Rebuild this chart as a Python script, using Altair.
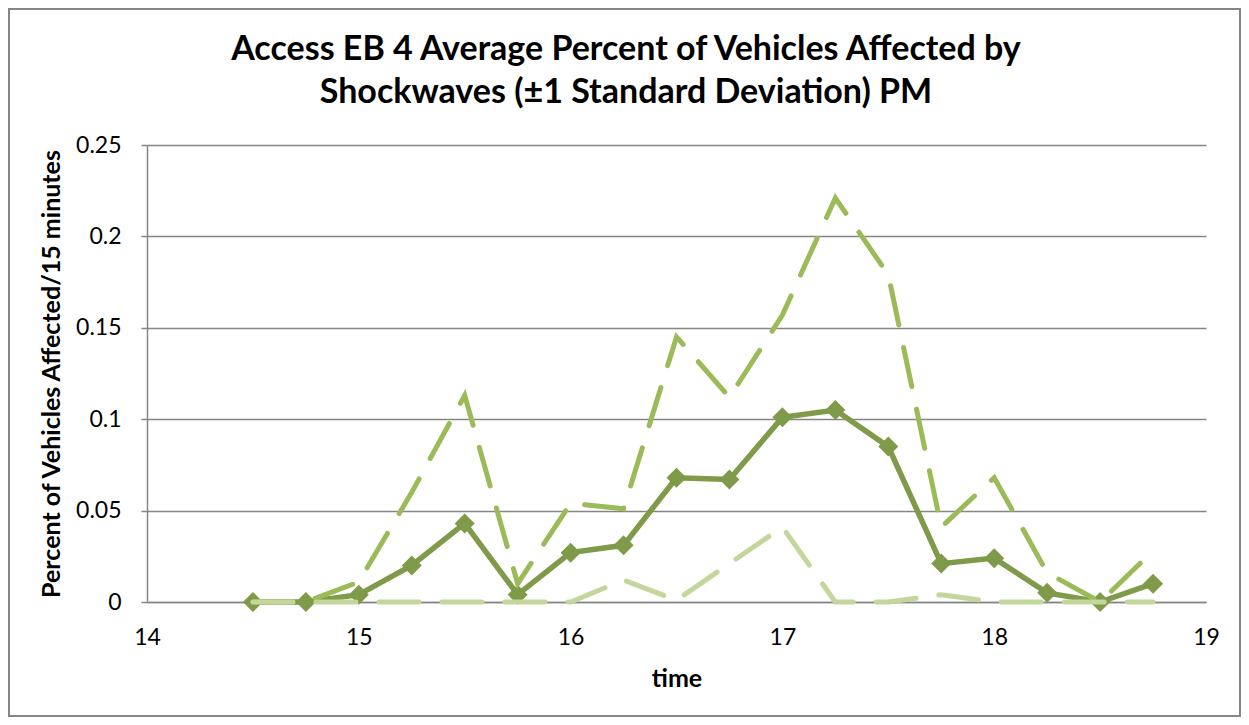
import altair as alt
import pandas as pd

times = [14.5, 14.75, 15.0, 15.25, 15.5, 15.75, 16.0, 16.25, 16.5, 16.75,
         17.0, 17.25, 17.5, 17.75, 18.0, 18.25, 18.5, 18.75]
mean_vals = [0.0, 0.0, 0.004, 0.020, 0.043, 0.004, 0.027, 0.031, 0.068, 0.067,
             0.101, 0.105, 0.085, 0.021, 0.024, 0.005, 0.0, 0.010]
upper_vals = [0.0, 0.0, 0.011, 0.060, 0.113, 0.010, 0.054, 0.051, 0.145, 0.112,
              0.157, 0.221, 0.179, 0.041, 0.068, 0.016, 0.0, 0.028]
lower_vals = [0.0, 0.0, 0.0, 0.0, 0.0, 0.0, 0.0, 0.012, 0.001, 0.021,
              0.041, 0.0, 0.0, 0.004, 0.0, 0.0, 0.0, 0.0]
x_ticks = [14, 15, 16, 17, 18, 19]
y_ticks = [0, 0.05, 0.1, 0.15, 0.2, 0.25]
title_lines = ["Access EB 4 Average Percent of Vehicles Affected by",
               "Shockwaves (±1 Standard Deviation) PM"]

df = pd.DataFrame({"time": times, "mean": mean_vals, "upper": upper_vals, "lower": lower_vals})

FONT = "Lato"
GRAY = "#868686"
W, H = 1059, 457
PL, PT, PR, PB = 139, 137, 35, 115

xs = alt.X("time:Q", scale=alt.Scale(domain=[14, 19], nice=False),
           axis=alt.Axis(values=x_ticks, format="d", title="time", grid=False, ticks=False,
                         labelFlush=False, labelOverlap=False,
                         labelPadding=24, titlePadding=17, domainColor=GRAY, domainWidth=1.5))

def yenc(field):
    return alt.Y(f"{field}:Q", scale=alt.Scale(domain=[0, 0.25], nice=False),
                 axis=alt.Axis(values=y_ticks, format="~g",
                               title="Percent of Vehicles Affected/15 minutes",
                               grid=True, gridColor=GRAY, gridWidth=1.5,
                               tickColor=GRAY, tickSize=6, tickWidth=1.5,
                               labelFlush=False, labelOverlap=False,
                               labelPadding=20, titlePadding=11,
                               domainColor=GRAY, domainWidth=1.5))

base = alt.Chart(df)

mean_line = base.mark_line(color="#7F9A48", strokeWidth=5.5).encode(x=xs, y=yenc("mean"))
mean_pts = base.mark_point(shape="diamond", filled=True, opacity=1, size=400,
                           color="#7F9A48").encode(x=xs, y=yenc("mean"))
upper_line = base.mark_line(color="#9BBB59", strokeWidth=5, strokeDash=[40, 23],
                            strokeCap="round").encode(x=xs, y=yenc("upper"))
lower_line = base.mark_line(color="#C3D69B", strokeWidth=5, strokeDash=[40, 23],
                            strokeCap="round").encode(x=xs, y=yenc("lower"))

border = alt.Chart(pd.DataFrame({"a": [0]})).mark_rect(
    fill=None, stroke=GRAY, strokeWidth=2).encode(
    x=alt.value(-PL + 1), x2=alt.value(W + PR - 1),
    y=alt.value(-PT + 1), y2=alt.value(H + PB - 1))

title_df = pd.DataFrame({"line": title_lines, "row": [0, 1]})
title1 = alt.Chart(title_df).transform_filter("datum.row == 0").mark_text(
    font=FONT, fontSize=34, fontWeight="bold", color="#000000",
    align="center", baseline="alphabetic").encode(
    text="line:N", x=alt.value(479), y=alt.value(-85))
title2 = alt.Chart(title_df).transform_filter("datum.row == 1").mark_text(
    font=FONT, fontSize=34, fontWeight="bold", color="#000000",
    align="center", baseline="alphabetic").encode(
    text="line:N", x=alt.value(479), y=alt.value(-42))

chart = alt.layer(border, mean_line, mean_pts, upper_line, lower_line, title1, title2).properties(
    width=W, height=H,
    background="white",
    autosize=alt.AutoSizeParams(type="none"),
    padding={"left": PL, "top": PT, "right": PR, "bottom": PB},
).configure_view(stroke=None).configure_axis(
    labelFont=FONT, labelFontSize=23, labelColor="#000000",
    titleFont=FONT, titleFontSize=25, titleFontWeight="bold", titleColor="#000000"
)

chart.save("out.html", embed_options={"renderer": "svg", "actions": False})
